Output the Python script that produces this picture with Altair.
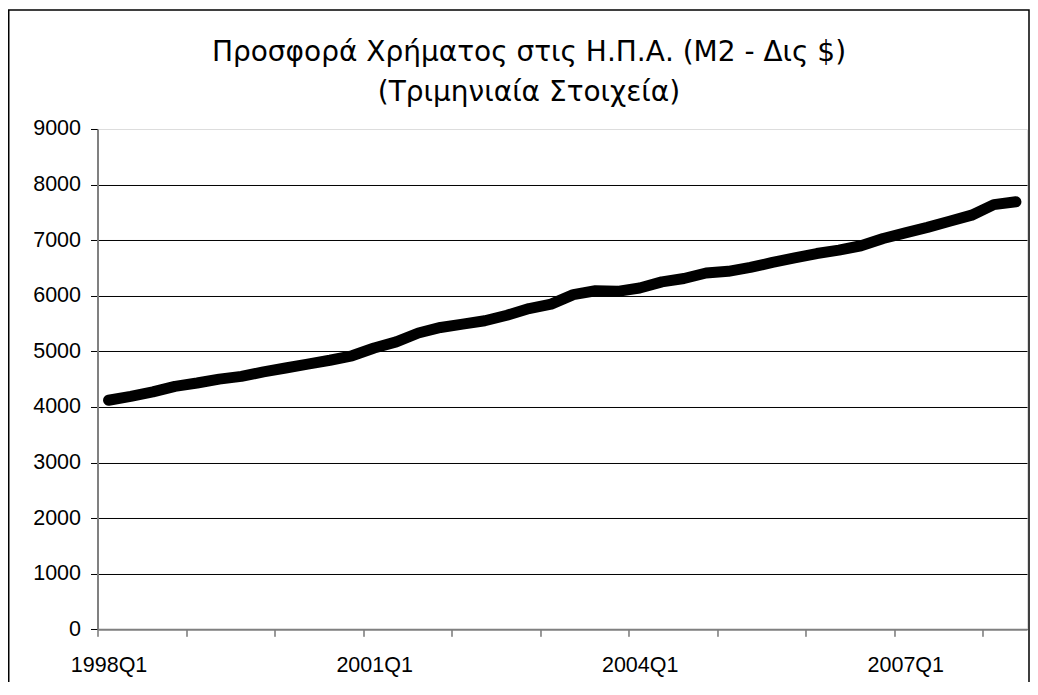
import altair as alt
import pandas as pd

quarters = [f"{y}Q{q}" for y in range(1998, 2009) for q in range(1, 5)][:42]
m2 = [4120, 4190, 4270, 4370, 4430, 4500, 4550, 4630,
      4700, 4770, 4840, 4920, 5060, 5170, 5330, 5430,
      5490, 5550, 5650, 5770, 5850, 6020, 6090, 6080,
      6140, 6250, 6310, 6410, 6440, 6510, 6600, 6680,
      6760, 6820, 6900, 7030, 7130, 7230, 7340, 7450,
      7640, 7690]
y_ticks = [0, 1000, 2000, 3000, 4000, 5000, 6000, 7000, 8000, 9000]
label_idx = [0, 12, 24, 36]
tick_pos = [-0.5 + 4 * k for k in range(11)]
title_lines = ["Προσφορά Χρήματος στις Η.Π.Α. (Μ2 - Δις $)", "(Τριμηνιαία Στοιχεία)"]

df = pd.DataFrame({"i": list(range(len(m2))), "q": quarters, "m2": m2})

W, H = 929.5, 500.3
FONT = "Liberation Sans"

label_arr = "[" + ",".join(f"'{q}'" for q in quarters) + "]"

x_axis = alt.Axis(
    values=tick_pos + label_idx,
    labelExpr=f"datum.value % 1 == 0 ? {label_arr}[datum.value] : ''",
    tickOpacity={"condition": {"test": "datum.value % 1 == 0", "value": 0}, "value": 1},
    labelOverlap=False, labelFlush=False, grid=False, title=None,
    tickSize=7, tickColor="#333333", tickWidth=1,
    domainColor="#808080", domainWidth=2,
    labelFont=FONT, labelFontSize=21.5, labelColor="black", labelPadding=18,
)
y_axis = alt.Axis(
    values=y_ticks, title=None, format="d",
    gridColor="black", gridWidth=1,
    gridOpacity={"condition": {"test": "datum.value == 9000", "value": 0}, "value": 1},
    tickSize=7, tickColor="black", tickWidth=1,
    domainColor="#808080", domainWidth=2,
    labelFont=FONT, labelFontSize=21.5, labelColor="black", labelPadding=10,
)

line = alt.Chart(df).mark_line(
    color="black", strokeWidth=11, strokeCap="round", strokeJoin="round"
).encode(
    x=alt.X("i:Q", scale=alt.Scale(domain=[-0.5, 41.5], nice=False, zero=False), axis=x_axis),
    y=alt.Y("m2:Q", scale=alt.Scale(domain=[0, 9000], nice=False), axis=y_axis),
)

frame = alt.Chart(alt.Data(values=[{}])).mark_rect(
    fillOpacity=0, stroke="black", strokeWidth=1.5
).encode(
    x=alt.value(-88.75), x2=alt.value(W + 2), y=alt.value(-119), y2=alt.value(H + 100)
)

title = alt.Chart(alt.Data(values=[{}])).mark_text(
    text=title_lines, font="DejaVu Sans", fontSize=28, color="black",
    align="center", baseline="alphabetic", lineHeight=40,
).encode(x=alt.value(431.5), y=alt.value(-68))

chart = alt.layer(frame, title, line).properties(
    width=W, height=H,
    padding={"left": 89.5, "top": 121, "right": 3, "bottom": 53},
    autosize=alt.AutoSizeParams(type="none"),
).configure_view(stroke=None).configure(background="white")

chart.save("out.html", embed_options={"renderer": "svg", "actions": False})
